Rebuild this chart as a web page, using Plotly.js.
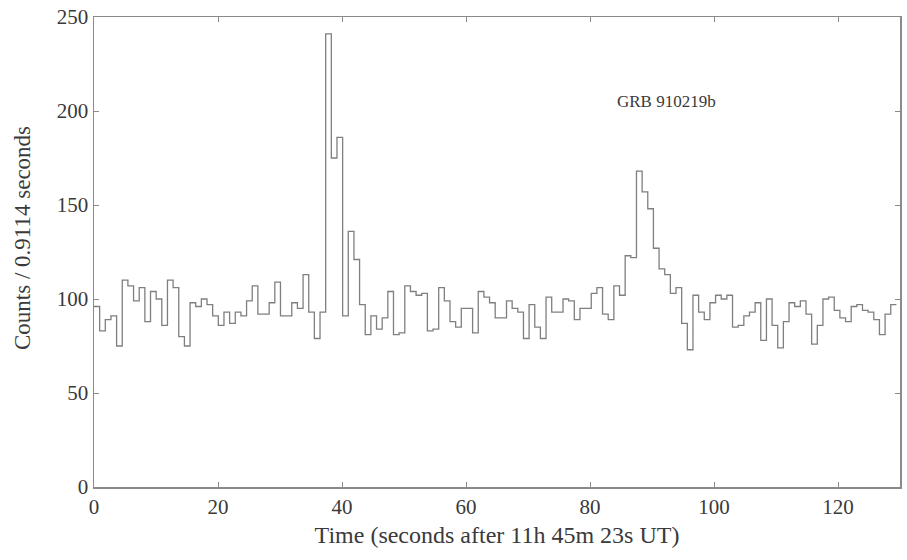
<!DOCTYPE html>
<html>
<head>
<meta charset="utf-8">
<script src="https://cdn.plot.ly/plotly-3.0.1.min.js"></script>
<style>html,body{margin:0;padding:0;background:#fff;}#chart{width:907px;height:560px;}</style>
</head>
<body>
<div id="chart"></div>
<script>
// Counts per 0.9114 s bin
const binWidth = 0.9114;
const counts = [
  96, 83, 89, 91, 75, 110, 107, 99, 106, 88,
  104, 100, 86, 110, 106, 80, 75, 98, 96, 100,
  97, 91, 86, 93, 87, 93, 91, 99, 107, 92,
  92, 98, 109, 91, 91, 98, 95, 113, 93, 79,
  93, 241, 175, 186, 91, 136, 121, 97, 81, 91,
  84, 90, 104, 81, 82, 107, 104, 102, 103, 83,
  84, 106, 99, 88, 85, 95, 95, 82, 104, 101,
  98, 90, 90, 99, 95, 93, 79, 97, 85, 79,
  101, 93, 93, 100, 99, 89, 95, 95, 103, 106,
  92, 89, 107, 102, 123, 122, 168, 157, 148, 127,
  116, 113, 103, 106, 87, 73, 102, 93, 89, 98,
  102, 100, 102, 85, 86, 91, 93, 98, 78, 100,
  86, 74, 88, 98, 96, 99, 92, 76, 86, 100,
  101, 94, 90, 88, 96, 97, 94, 93, 89, 81,
  92, 97
];
const xTicks = [0, 20, 40, 60, 80, 100, 120];
const yTicks = [0, 50, 100, 150, 200, 250];
const label = "GRB 910219b";
const xTitle = "Time (seconds after 11h 45m 23s UT)";
const yTitle = "Counts / 0.9114 seconds";

const xs = [], ys = [];
for (let i = 0; i < counts.length; i++) { xs.push(i * binWidth); ys.push(counts[i]); }
xs.push(counts.length * binWidth); ys.push(counts[counts.length - 1]);

const fontFam = "Liberation Serif, Times New Roman, serif";
const txt = '#3a3a3a';
const axisCommon = {
  showline: true, mirror: 'ticks', linecolor: '#8a8a8a', linewidth: 1.5,
  ticks: 'inside', ticklen: 5, tickcolor: '#8a8a8a', tickwidth: 1,
  showgrid: false, zeroline: false,
  tickfont: {family: fontFam, size: 21, color: txt}
};

Plotly.newPlot('chart', [{
  x: xs, y: ys, type: 'scatter', mode: 'lines',
  line: {shape: 'hv', color: '#7f7f7f', width: 1.3},
  hoverinfo: 'skip'
}], {
  width: 907, height: 560,
  margin: {l: 94, r: 7, t: 17, b: 73},
  paper_bgcolor: '#fff', plot_bgcolor: '#fff',
  showlegend: false,
  font: {family: fontFam, color: txt},
  xaxis: Object.assign({}, axisCommon, {
    range: [0, 130], tickvals: xTicks, ticktext: xTicks.map(String),
    title: {text: xTitle, font: {family: fontFam, size: 24, color: txt}, standoff: 8}
  }),
  yaxis: Object.assign({}, axisCommon, {
    range: [0, 250], tickvals: yTicks, ticktext: yTicks.map(String)
  }),
  annotations: [{
    x: 92.4, y: 205, xref: 'x', yref: 'y', text: label, showarrow: false,
    font: {family: fontFam, size: 17, color: txt}
  }, {
    x: -0.088, y: 0.53, xref: 'paper', yref: 'paper', text: yTitle, showarrow: false,
    textangle: -90, xanchor: 'center', yanchor: 'middle',
    font: {family: fontFam, size: 23, color: txt}
  }]
}, {displayModeBar: false, staticPlot: true});
</script>
</body>
</html>
